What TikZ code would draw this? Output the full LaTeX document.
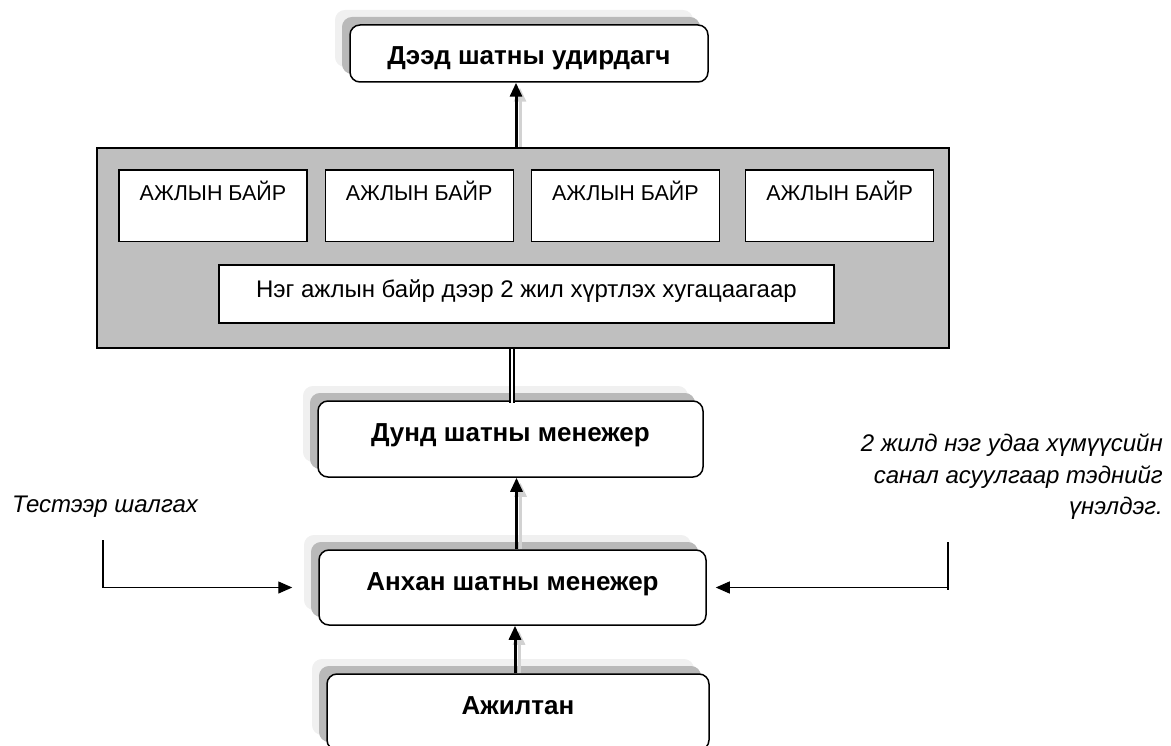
\documentclass[tikz,border=0pt]{standalone}
\usepackage{fontspec}
\setmainfont{Liberation Sans}
\usetikzlibrary{positioning,arrows.meta,shadows,calc}
\tikzstyle{rank} = [
rounded corners=0.35cm,
line width=1.5pt,
draw=black,
fill=white,
inner sep=0pt,
font=\fontsize{26}{30}\selectfont\bfseries,
general shadow={fill=gray!12, shadow xshift=-15pt, shadow yshift=15pt},
general shadow={fill=gray!55, shadow xshift=-8pt, shadow yshift=8pt}
]
\tikzstyle{panel} = [
draw=black,
line width=1.5pt,
fill=gray!50,
minimum width=852pt,
minimum height=200pt
]
\tikzstyle{place} = [
draw=black,
line width=1.2pt,
fill=white,
inner sep=0pt,
font=\fontsize{21.5}{25}\selectfont,
minimum width=188pt,
text height=30.5pt,
text depth=41pt
]
\tikzstyle{note} = [
inner sep=0pt,
font=\fontsize{24}{31.5}\selectfont\itshape
]
\tikzstyle{up} = [
line width=3pt,
-{Triangle[length=14pt,width=12pt]}
]
\tikzstyle{upshadow} = [
line width=3pt,
draw=gray!35,
-{Triangle[length=14pt,width=12pt]},
shorten <=5pt,
transform canvas={xshift=4pt,yshift=-5pt}
]
\tikzstyle{side} = [
line width=1.2pt,
-{Triangle[length=14pt,width=12pt]}
]

\begin{document}
\begin{tikzpicture}[x=1pt,y=-1pt]
	\useasboundingbox (0,0) rectangle (1171,746);
	
	\node[rank,minimum width=358pt,text height=40pt,text depth=17pt] (boss) at (529,53.5) {Дээд шатны удирдагч};
	
	\node[panel] (panel) at (523,248) {};
	\node[place] (p1) at (213,205.75) {АЖЛЫН БАЙР};
	\node[place,right=17pt of p1] (p2) {АЖЛЫН БАЙР};
	\node[place,right=17pt of p2] (p3) {АЖЛЫН БАЙР};
	\node[place,right=25pt of p3] (p4) {АЖЛЫН БАЙР};
	\node[place,font=\fontsize{24}{28}\selectfont,minimum width=615pt,text height=33pt,text depth=25pt] (term) at (526.5,294) {Нэг ажлын байр дээр 2 жил хүртлэх хугацаагаар};
	
	\node[rank,minimum width=385pt,text height=40pt,text depth=36pt] (middle) at (510.5,439) {Дунд шатны менежер};
	\node[rank,minimum width=387pt,text height=40pt,text depth=35pt] (junior) at (512.5,587.5) {Анхан шатны менежер};
	\node[rank,minimum width=382pt,text height=40pt,text depth=36pt] (staff) at (518,712) {Ажилтан};
	
	\node[note,anchor=west] (testnote) at (12,507) {Тестээр шалгах};
	\node[note,anchor=east,align=right] (evalnote) at (1163,477) {2 жилд нэг удаа хүмүүсийн\\санал асуулгаар тэднийг\\үнэлдэг.};
	
	\coordinate (testfoot) at (103,540);
	\coordinate (evaltop) at (948,542);
	\coordinate (evalend) at (948,590);
	
	% arrows up the ladder
	\draw[upshadow] ([xshift=-7pt]panel.north) -- ([xshift=-7pt]panel.north |- boss.south);
	\draw[up] ([xshift=-7pt]panel.north) -- ([xshift=-7pt]panel.north |- boss.south);
	\draw[upshadow] ([xshift=4pt]junior.north) -- ([xshift=4pt]junior.north |- middle.south);
	\draw[up] ([xshift=4pt]junior.north) -- ([xshift=4pt]junior.north |- middle.south);
	\draw[upshadow] ([xshift=-3pt]staff.north) -- ([xshift=-3pt]staff.north |- junior.south);
	\draw[up] ([xshift=-3pt]staff.north) -- ([xshift=-3pt]staff.north |- junior.south);
	\draw[double,double distance=2.5pt,line width=1.3pt] ([xshift=-11pt]panel.south) -- ([xshift=-11pt,yshift=-3pt]panel.south |- middle.north);
	
	% checks from the sides
	\draw[side] (testfoot) |- ([xshift=-26pt]junior.west);
	\draw[line width=1.2pt] (evaltop) -- (evalend);
	\draw[side] (evaltop |- junior.east) -- ([xshift=9pt]junior.east);
\end{tikzpicture}
\end{document}
